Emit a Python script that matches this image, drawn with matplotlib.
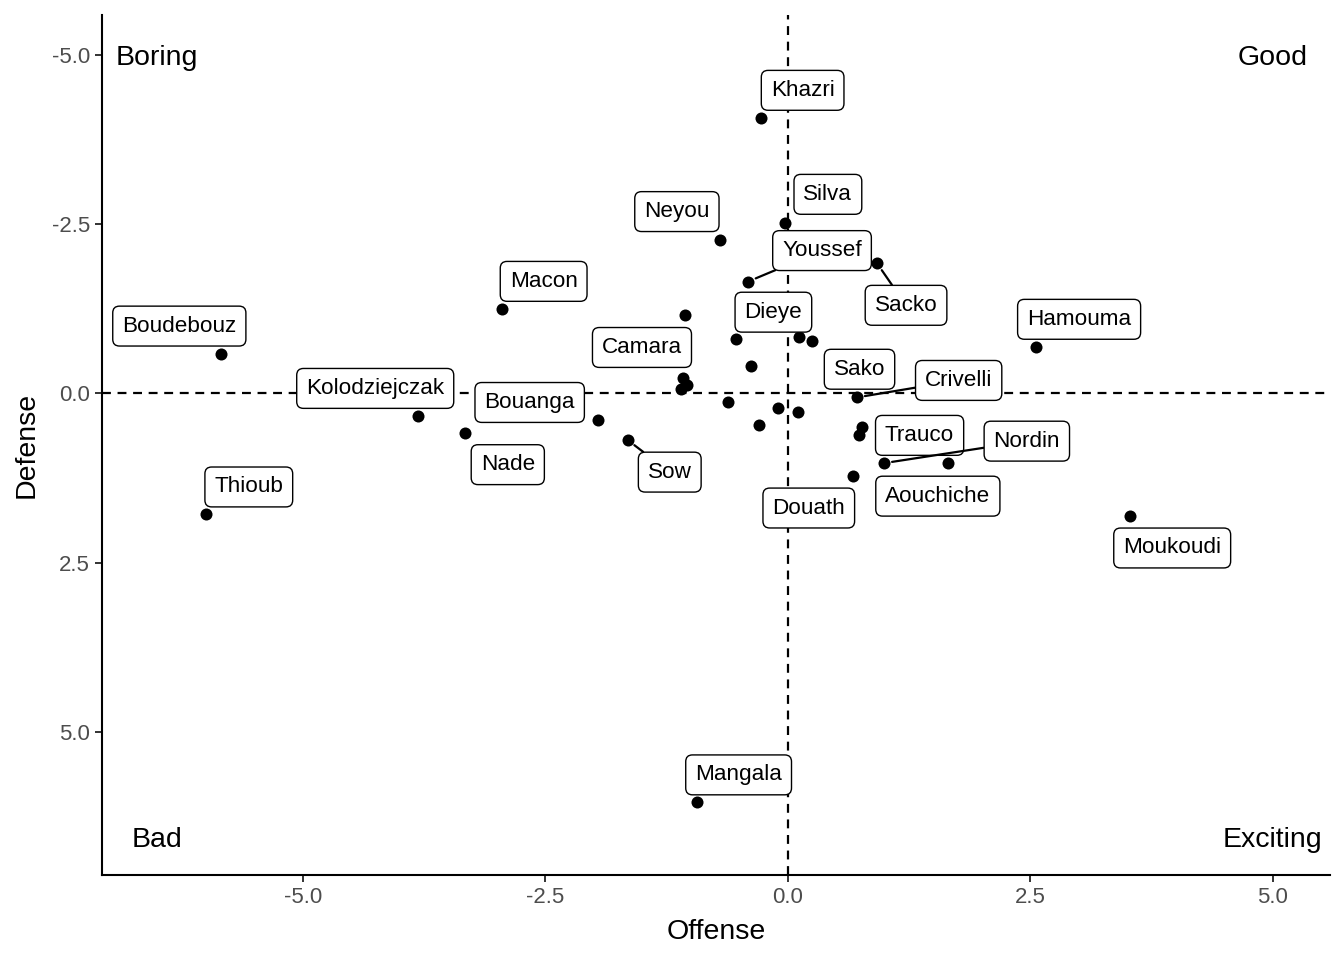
import numpy as np
import matplotlib.pyplot as plt

# player scores (empty name = point without a label)
names = ["Khazri", "Silva", "Neyou", "Youssef", "Sacko", "Macon", "Camara", "Dieye",
         "", "", "", "Hamouma", "Boudebouz", "", "", "", "Crivelli", "", "", "",
         "Kolodziejczak", "Nade", "Bouanga", "Sow", "", "Sako", "Trauco", "Nordin",
         "Aouchiche", "Douath", "Moukoudi", "Thioub", "Mangala"]
offense = [-0.28, -0.03, -0.70, -0.41, 0.92, -2.95, -1.06, -0.53,
           0.12, 0.25, -0.38, 2.56, -5.84, -1.08, -1.04, -1.10, 0.71, -0.62, -0.10, 0.11,
           -3.81, -3.33, -1.96, -1.65, -0.30, 0.76, 0.73, 0.99,
           1.65, 0.67, 3.53, -6.00, -0.94]
defense = [-4.06, -2.51, -2.27, -1.65, -1.92, -1.24, -1.15, -0.80,
           -0.83, -0.77, -0.40, -0.68, -0.58, -0.22, -0.12, -0.07, 0.06, 0.12, 0.22, 0.28,
           0.34, 0.58, 0.40, 0.69, 0.47, 0.50, 0.62, 1.03,
           1.03, 1.22, 1.81, 1.78, 6.03]

quad_text = ["Boring", "Good", "Bad", "Exciting"]
quad_x = [-6.5, 5.0, -6.5, 5.0]
quad_y = [-5.0, -5.0, 6.55, 6.55]

# label placement (pixel offsets from point), True = draw segment
label_off = {
    "Khazri": (42, -29, False), "Silva": (43, -30, False), "Neyou": (-43, -29, False),
    "Youssef": (74, -32, True), "Sacko": (29, 41, True), "Macon": (42, -29, False),
    "Camara": (-43, 31, False), "Dieye": (37, -28, False), "Hamouma": (43, -29, False),
    "Boudebouz": (-42, -29, False), "Crivelli": (102, -18, True),
    "Kolodziejczak": (-43, -29, False), "Nade": (43, 31, False), "Bouanga": (-68, -19, False),
    "Sow": (42, 31, True), "Sako": (-2, -59, False), "Trauco": (61, -1, False),
    "Nordin": (143, -23, True), "Aouchiche": (-10, 32, False), "Douath": (-44, 31, False),
    "Thioub": (43, -28, False), "Moukoudi": (42, 31, False), "Mangala": (42, -28, False),
}

plt.rcParams['font.family'] = ['Liberation Sans', 'DejaVu Sans']

fig = plt.figure(figsize=(13.44, 9.6), dpi=100)
ax = fig.add_axes([0.0759, 0.0885, 0.9137, 0.8955])

ax.axvline(0, color='black', lw=1.6, dashes=(4, 3), zorder=1)
ax.axhline(0, color='black', lw=1.6, dashes=(4, 3), zorder=1)

ax.scatter(offense, defense, s=75, color='black', zorder=3, linewidths=0)

for n, x, y in zip(names, offense, defense):
    if not n:
        continue
    dx, dy, seg = label_off[n]
    arrow = None
    if seg:
        arrow = dict(arrowstyle='-', lw=1.6, color='black', shrinkA=0, shrinkB=6)
    ax.annotate(n, (x, y), xytext=(dx, -dy - 1), textcoords='offset pixels',
                ha='center', va='center', fontsize=16.2, color='black', zorder=4,
                bbox=dict(boxstyle='round,pad=0.42,rounding_size=0.3', fc='white',
                          ec='black', lw=1.0),
                arrowprops=arrow)

for t, x, y in zip(quad_text, quad_x, quad_y):
    # nudge so the glyphs sit like ggplot's centred text
    ax.annotate(t, (x, y), xytext=(0, -3), textcoords='offset pixels',
                ha='center', va='center', fontsize=20.5, color='black')

ax.set_xlim(-7.07, 5.59)
ax.set_ylim(7.11, -5.58)
ax.set_xticks([-5.0, -2.5, 0.0, 2.5, 5.0])
ax.set_yticks([-5.0, -2.5, 0.0, 2.5, 5.0])
ax.set_xticklabels(["-5.0", "-2.5", "0.0", "2.5", "5.0"])
ax.set_yticklabels(["-5.0", "-2.5", "0.0", "2.5", "5.0"])
ax.tick_params(labelsize=16, labelcolor='#4D4D4D', length=5, width=1.4, color='#333333')
ax.set_xlabel("Offense", fontsize=20.5, labelpad=8)
ax.set_ylabel("Defense", fontsize=20.5, labelpad=9)

for s in ['top', 'right']:
    ax.spines[s].set_visible(False)
for s in ['left', 'bottom']:
    ax.spines[s].set_linewidth(1.5)

plt.savefig('out.png', dpi=100)
